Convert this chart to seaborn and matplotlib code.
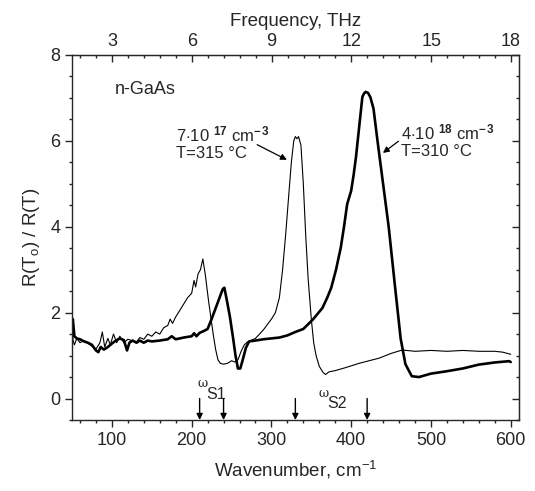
import numpy as np
import pandas as pd
import matplotlib
matplotlib.use("Agg")
import matplotlib.pyplot as plt
import seaborn as sns
from matplotlib.ticker import MultipleLocator

# Спектр образца 7e17 (тонкая линия)
wn_thin = [50, 53, 56, 60, 65, 70, 75, 80, 85, 88, 91, 95, 98, 102, 106, 110, 115, 120, 125, 130,
           135, 140, 145, 150, 155, 160, 165, 170, 173, 176, 180, 185, 190, 195, 200, 203, 205, 208,
           211, 214, 217, 219, 221, 224, 227, 230, 233, 236, 240, 245, 250, 254, 258, 262, 266, 270,
           280, 290, 300, 305, 310, 314, 318, 322, 325, 328, 330, 332, 334, 337, 340, 343, 346, 350,
           353, 356, 360, 365, 368, 372, 380, 393, 410, 435, 450, 464, 480, 500, 520, 540, 560, 580,
           590, 600]
r_thin = [1.45, 1.25, 1.4, 1.3, 1.35, 1.28, 1.22, 1.15, 1.3, 1.55, 1.2, 1.4, 1.25, 1.5, 1.3, 1.45,
          1.3, 1.38, 1.35, 1.3, 1.42, 1.38, 1.5, 1.45, 1.55, 1.5, 1.65, 1.7, 1.85, 1.75, 1.9, 2.05,
          2.2, 2.35, 2.45, 2.75, 2.6, 2.9, 3.0, 3.25, 2.9, 2.6, 2.3, 1.9, 1.5, 1.15, 0.9, 0.82, 0.8,
          0.82, 0.88, 0.85, 0.9, 1.1, 1.25, 1.32, 1.4, 1.6, 1.85, 2.0, 2.35, 3.0, 3.85, 4.8, 5.5,
          6.0, 6.1, 6.05, 6.1, 5.9, 5.0, 3.8, 2.8, 1.85, 1.3, 1.0, 0.75, 0.6, 0.56, 0.62, 0.65, 0.72,
          0.82, 0.94, 1.05, 1.13, 1.1, 1.12, 1.1, 1.12, 1.1, 1.1, 1.08, 1.03]

# Спектр образца 4e18 (толстая линия)
wn_thick = [50, 51, 53, 56, 60, 65, 70, 75, 80, 83, 86, 90, 95, 100, 105, 110, 115, 119, 122, 126,
            131, 135, 140, 145, 150, 160, 170, 175, 180, 190, 200, 203, 206, 210, 215, 220, 225, 230,
            235, 239, 241, 244, 248, 252, 255, 258, 261, 264, 268, 272, 280, 290, 300, 310, 320, 330,
            340, 352, 364, 370, 375, 381, 387, 391, 395, 400, 403, 406, 410, 414, 416, 418, 421, 424,
            428, 433, 440, 447, 455, 462, 468, 476, 485, 500, 518, 540, 560, 580, 598, 600]
r_thick = [1.4, 1.85, 1.45, 1.4, 1.38, 1.33, 1.3, 1.25, 1.12, 1.08, 1.2, 1.14, 1.2, 1.28, 1.35, 1.4,
           1.36, 1.12, 1.3, 1.35, 1.3, 1.35, 1.3, 1.35, 1.33, 1.35, 1.38, 1.45, 1.38, 1.42, 1.45, 1.52,
           1.45, 1.53, 1.57, 1.62, 1.85, 2.1, 2.35, 2.55, 2.58, 2.3, 1.9, 1.4, 1.0, 0.7, 0.7, 0.9,
           1.18, 1.33, 1.35, 1.38, 1.4, 1.42, 1.47, 1.55, 1.62, 1.84, 2.11, 2.35, 2.58, 3.0, 3.52,
           4.0, 4.53, 4.84, 5.2, 5.62, 6.32, 7.02, 7.1, 7.14, 7.12, 7.02, 6.75, 6.0, 5.0, 4.0, 2.6,
           1.4, 0.8, 0.52, 0.5, 0.58, 0.63, 0.7, 0.79, 0.84, 0.87, 0.85]

# Положения стрелок (omega_S1, omega_S2)
arrow_wn = [210, 240, 330, 420]
# Подписи верхней оси, ТГц
thz_ticks = [3, 6, 9, 12, 15, 18]

CM_TO_THZ = 0.0299792

sns.set_style("ticks")
plt.rcParams['font.family'] = ['Liberation Sans', 'DejaVu Sans']
plt.rcParams['mathtext.fontset'] = 'custom'
plt.rcParams['mathtext.rm'] = 'Liberation Sans'
plt.rcParams['mathtext.it'] = 'Liberation Sans:italic'
plt.rcParams['mathtext.bf'] = 'Liberation Sans:bold'

fig = plt.figure(figsize=(5.35, 4.91), dpi=100)
ax = fig.add_axes([0.1346, 0.1446, 0.8349, 0.7434])

df_thin = pd.DataFrame({'wn': wn_thin, 'r': r_thin})
df_thick = pd.DataFrame({'wn': wn_thick, 'r': r_thick})
sns.lineplot(data=df_thin, x='wn', y='r', color='black', linewidth=0.8, ax=ax, sort=False)
sns.lineplot(data=df_thick, x='wn', y='r', color='black', linewidth=1.9, ax=ax, sort=False)

ax.set_xlim(50, 610)
ax.set_ylim(-0.5, 8)
ax.xaxis.set_major_locator(MultipleLocator(100))
ax.xaxis.set_minor_locator(MultipleLocator(20))
ax.yaxis.set_major_locator(MultipleLocator(2))
ax.yaxis.set_minor_locator(MultipleLocator(0.5))
ax.tick_params(which='major', direction='out', length=5, width=1, labelsize=13)
ax.tick_params(which='minor', direction='out', length=2.5, width=1)
for s in ax.spines.values():
    s.set_linewidth(1)

ax.set_xlabel(r'Wavenumber, cm$^{\mathrm{-1}}$', fontsize=13.5, labelpad=7)
ax.set_ylabel(r'$\mathrm{R(T_o)\ /\ R(T)}$', fontsize=13.5, labelpad=6)

# Верхняя ось - частота
top = ax.secondary_xaxis('top', functions=(lambda x: x * CM_TO_THZ, lambda f: f / CM_TO_THZ))
top.set_xticks(thz_ticks)
top.xaxis.set_minor_locator(MultipleLocator(0.6))
top.tick_params(which='major', direction='in', length=5, width=1, labelsize=13)
top.tick_params(which='minor', direction='in', length=2.5, width=1)
top.set_xlabel('Frequency, THz', fontsize=13.5, labelpad=5)

# Правая ось без подписей
right = ax.secondary_yaxis('right')
right.yaxis.set_major_locator(MultipleLocator(2))
right.yaxis.set_minor_locator(MultipleLocator(0.5))
right.tick_params(which='major', direction='in', length=5, width=1, labelright=False)
right.tick_params(which='minor', direction='in', length=2.5, width=1)

# Подписи
ax.text(104, 7.2, 'n-GaAs', fontsize=13, va='center', ha='left')
ax.text(180, 5.95, r'7$\cdot$10 $^{\mathbf{17}}$ cm$^{\mathbf{-\,3}}$' + '\n' + 'T=315 °C',
        fontsize=12, va='center', ha='left', linespacing=1.15)
ax.text(462, 6.0, r'4$\cdot$10 $^{\mathbf{18}}$ cm$^{\mathbf{-\,3}}$' + '\n' + 'T=310 °C',
        fontsize=12, va='center', ha='left', linespacing=1.15)
ax.annotate('', xy=(322.5, 5.53), xytext=(279, 5.94),
            arrowprops=dict(arrowstyle='-|>', color='black', lw=0.9, mutation_scale=9))
ax.annotate('', xy=(437, 5.68), xytext=(462, 6.03),
            arrowprops=dict(arrowstyle='-|>', color='black', lw=0.9, mutation_scale=9))

ax.text(213.5, 0.36, 'ω', fontsize=9, family=['DejaVu Serif'], ha='center', va='center')
ax.text(230, 0.09, 'S1', fontsize=11.5, ha='center', va='center')
ax.text(366, 0.12, 'ω', fontsize=9, family=['DejaVu Serif'], ha='center', va='center')
ax.text(382.5, -0.11, 'S2', fontsize=11.5, ha='center', va='center')

for x in arrow_wn:
    ax.annotate('', xy=(x, -0.5), xytext=(x, 0.0),
                arrowprops=dict(arrowstyle='-|>', color='black', lw=1, mutation_scale=9,
                                shrinkA=0, shrinkB=0))

fig.savefig('out.png', dpi=100)
